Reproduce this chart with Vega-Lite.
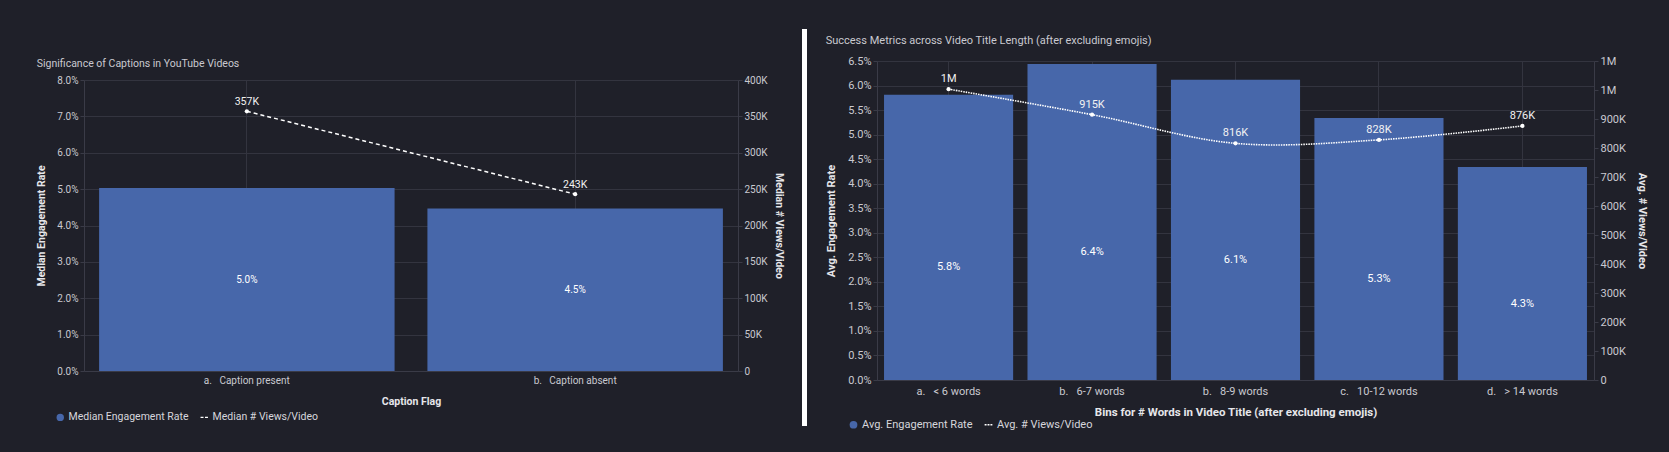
{
  "$schema": "https://vega.github.io/schema/vega-lite/v6.json",
  "background": "#1f2029",
  "padding": {"left": 36, "top": 23, "right": 40, "bottom": 40},
  "spacing": 18,
  "config": {
    "font": "Liberation Sans Narrow, Roboto, sans-serif",
    "view": {"stroke": null},
    "axis": {
      "labelColor": "#c9c9d0",
      "titleColor": "#e6e6ea",
      "titleFontWeight": "bold",
      "gridColor": "#33343f",
      "domainColor": "#3a3b47",
      "tickColor": "#3a3b47",
      "labelFont": "Liberation Sans Narrow, Roboto, sans-serif",
      "titleFont": "Liberation Sans Narrow, Roboto, sans-serif"
    },
    "title": {"color": "#c9c9d0", "fontWeight": "normal", "anchor": "start", "font": "Liberation Sans Narrow, Roboto, sans-serif"},
    "legend": {"labelFont": "Liberation Sans Narrow, Roboto, sans-serif"}
  },
  "resolve": {"scale": {"color": "independent"}, "legend": {"color": "independent"}},
  "hconcat": [
    {
      "spacing": 0,
      "vconcat": [
        {"width": 10, "height": 29, "data": {"values": [{"a": 1}]}, "mark": {"type": "text", "text": ""}, "encoding": {}},
        {
          "width": 654,
          "height": 291,
          "title": {"text": "Significance of Captions in YouTube Videos", "fontSize": 10.5, "offset": 6},
          "data": {"values": [
            {"flag": "a.\u00a0\u00a0 Caption present", "rate": 0.0503, "views": 357000},
            {"flag": "b.\u00a0\u00a0 Caption absent", "rate": 0.0447, "views": 243000}
          ]},
          "encoding": {
            "x": {"field": "flag", "type": "nominal", "sort": null,
              "scale": {"paddingInner": 0.1, "paddingOuter": 0.046},
              "axis": {"title": "Caption Flag", "labelAngle": 0, "grid": true, "bandPosition": 0.5, "labelPadding": 4, "titlePadding": 11, "ticks": false, "labelFontSize": 10, "titleFontSize": 10.5}}
          },
          "layer": [
            {
              "mark": {"type": "bar", "color": "#4767aa"},
              "encoding": {
                "y": {"field": "rate", "type": "quantitative", "scale": {"domain": [0, 0.08]},
                  "axis": {"title": "Median Engagement Rate", "format": ".1%", "values": [0, 0.01, 0.02, 0.03, 0.04, 0.05, 0.06, 0.07, 0.08], "grid": true, "tickSize": 4, "labelPadding": 2, "titlePadding": 10, "labelFontSize": 10, "titleFontSize": 10.5}},
                "color": {"datum": "Median Engagement Rate", "type": "nominal",
                  "scale": {"domain": ["Median Engagement Rate", "Median # Views/Video"], "range": ["#4767aa", "#ffffff"]},
                  "legend": {"orient": "none", "legendX": -29, "legendY": 383, "direction": "horizontal", "title": null,
                    "labelColor": "#d6d6dc", "labelFontSize": 10.5, "symbolSize": 55, "columnPadding": 10, "labelOffset": 3,
                    "encode": {"symbols": {"update": {
                      "shape": {"signal": "datum.value === 'Median # Views/Video' ? 'M-1,-0.2H-0.2V0.2H-1Z M0.2,-0.2H1V0.2H0.2Z' : 'circle'"},
                      "fill": {"signal": "datum.value === 'Median # Views/Video' ? '#ffffff' : '#4767aa'"},
                      "stroke": {"value": "transparent"},
                      "strokeWidth": {"value": 0},
                      "opacity": {"value": 1}
                    }}}}}
              }
            },
            {
              "mark": {"type": "text", "color": "#ffffff", "fontSize": 10},
              "encoding": {
                "y": {"field": "rate", "type": "quantitative", "scale": {"domain": [0, 0.16]}, "axis": null},
                "text": {"field": "rate", "type": "quantitative", "format": ".1%"}
              }
            },
            {
              "encoding": {
                "y": {"field": "views", "type": "quantitative", "scale": {"domain": [0, 400000]},
                  "axis": {"orient": "right", "title": "Median # Views/Video", "values": [0, 50000, 100000, 150000, 200000, 250000, 300000, 350000, 400000],
                    "labelExpr": "replace(format(datum.value, '~s'), 'k', 'K')", "grid": false, "tickSize": 4, "labelPadding": 2, "titlePadding": 6, "labelFontSize": 10, "titleFontSize": 10.5}}
              },
              "layer": [
                {"mark": {"type": "line", "strokeDash": [4, 3], "strokeWidth": 1.5},
                 "encoding": {"color": {"datum": "Median # Views/Video", "type": "nominal"}}},
                {"mark": {"type": "point", "filled": true, "color": "#ffffff", "size": 18, "opacity": 1}},
                {"mark": {"type": "text", "color": "#f2f2f2", "dy": -9, "fontSize": 10.5, "text": {"expr": "upper(format(datum.views, '.3~s'))"}}}
              ]
            }
          ],
          "resolve": {"scale": {"y": "independent"}}
        }
      ]
    },
    {
      "width": 5,
      "height": 397,
      "view": {"fill": "#ffffff", "stroke": null},
      "data": {"values": [{"a": 1}]},
      "mark": {"type": "text", "text": ""},
      "encoding": {}
    },
    {
      "spacing": 0,
      "vconcat": [
        {"width": 10, "height": 1, "data": {"values": [{"a": 1}]}, "mark": {"type": "text", "text": ""}, "encoding": {}},
        {
          "width": 717,
          "height": 319,
          "title": {"text": "Success Metrics across Video Title Length (after excluding emojis)", "fontSize": 11, "offset": 9},
          "data": {"values": [
            {"bin": "a.\u00a0\u00a0 < 6 words", "rate": 0.0581, "views": 1003000},
            {"bin": "b.\u00a0\u00a0 6-7 words", "rate": 0.0644, "views": 915000},
            {"bin": "b.\u00a0\u00a0 8-9 words", "rate": 0.0612, "views": 816000},
            {"bin": "c.\u00a0\u00a0 10-12 words", "rate": 0.0534, "views": 828000},
            {"bin": "d.\u00a0\u00a0 > 14 words", "rate": 0.0434, "views": 876000}
          ]},
          "encoding": {
            "x": {"field": "bin", "type": "nominal", "sort": null,
              "scale": {"paddingInner": 0.1, "paddingOuter": 0.049},
              "axis": {"title": "Bins for # Words in Video Title (after excluding emojis)", "labelAngle": 0, "grid": true, "bandPosition": 0.5, "labelPadding": 5, "titlePadding": 10, "ticks": false, "labelFontSize": 11, "titleFontSize": 11.5}}
          },
          "layer": [
            {
              "mark": {"type": "bar", "color": "#4767aa"},
              "encoding": {
                "y": {"field": "rate", "type": "quantitative", "scale": {"domain": [0, 0.065]},
                  "axis": {"title": "Avg. Engagement Rate", "format": ".1%", "values": [0, 0.005, 0.01, 0.015, 0.02, 0.025, 0.03, 0.035, 0.04, 0.045, 0.05, 0.055, 0.06, 0.065], "grid": true, "tickSize": 4, "labelPadding": 2, "titlePadding": 11, "labelFontSize": 11, "titleFontSize": 11}},
                "color": {"datum": "Avg. Engagement Rate", "type": "nominal",
                  "scale": {"domain": ["Avg. Engagement Rate", "Avg. # Views/Video"], "range": ["#4767aa", "#ffffff"]},
                  "legend": {"orient": "none", "legendX": -29, "legendY": 390, "direction": "horizontal", "title": null,
                    "labelColor": "#d6d6dc", "labelFontSize": 11, "symbolSize": 60, "columnPadding": 10, "labelOffset": 3,
                    "encode": {"symbols": {"update": {
                      "shape": {"signal": "datum.value === 'Avg. # Views/Video' ? 'M-1,-0.2H-0.5V0.2H-1Z M-0.25,-0.2H0.25V0.2H-0.25Z M0.5,-0.2H1V0.2H0.5Z' : 'circle'"},
                      "fill": {"signal": "datum.value === 'Avg. # Views/Video' ? '#ffffff' : '#4767aa'"},
                      "stroke": {"value": "transparent"},
                      "strokeWidth": {"value": 0},
                      "opacity": {"value": 1}
                    }}}}}
              }
            },
            {
              "mark": {"type": "text", "color": "#ffffff", "fontSize": 11, "dy": 30},
              "encoding": {
                "y": {"field": "rate", "type": "quantitative", "scale": {"domain": [0, 0.13]}, "axis": null},
                "text": {"field": "rate", "type": "quantitative", "format": ".1%"}
              }
            },
            {
              "encoding": {
                "y": {"field": "views", "type": "quantitative", "scale": {"domain": [0, 1100000]},
                  "axis": {"orient": "right", "title": "Avg. # Views/Video", "values": [0, 100000, 200000, 300000, 400000, 500000, 600000, 700000, 800000, 900000, 1000000, 1100000],
                    "labelExpr": "replace(format(datum.value, '.1s'), 'k', 'K')", "grid": false, "tickSize": 4, "labelPadding": 2, "titlePadding": 11, "labelFontSize": 11, "titleFontSize": 11}}
              },
              "layer": [
                {"mark": {"type": "line", "interpolate": "catmull-rom", "strokeDash": [1.5, 1], "strokeWidth": 1.6},
                 "encoding": {"color": {"datum": "Avg. # Views/Video", "type": "nominal"}}},
                {"mark": {"type": "point", "filled": true, "color": "#ffffff", "size": 18, "opacity": 1}},
                {"mark": {"type": "text", "color": "#f2f2f2", "dy": -10, "fontSize": 11, "text": {"expr": "upper(format(datum.views, '.3~s'))"}}}
              ]
            }
          ],
          "resolve": {"scale": {"y": "independent"}}
        }
      ]
    }
  ]
}
